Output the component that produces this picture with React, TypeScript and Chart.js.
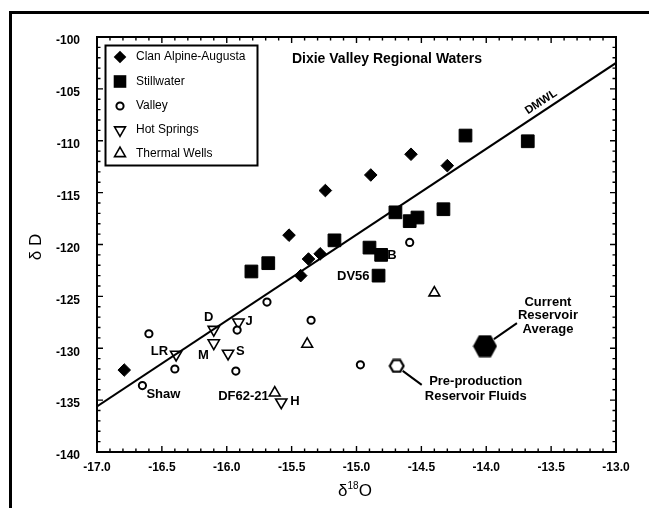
import React, { useEffect, useRef } from "react";
import { Chart, registerables } from "chart.js";

Chart.register(...registerables);

// ---------- data ----------
const X_TICKS = [-17, -16.5, -16, -15.5, -15, -14.5, -14, -13.5, -13];
const X_TICK_LABELS = ["-17.0", "-16.5", "-16.0", "-15.5", "-15.0", "-14.5", "-14.0", "-13.5", "-13.0"];
const Y_TICKS = [-140, -135, -130, -125, -120, -115, -110, -105, -100];
const Y_TICK_LABELS = ["-140", "-135", "-130", "-125", "-120", "-115", "-110", "-105", "-100"];

const CLAN_X = [-16.79, -15.52, -15.43, -15.37, -15.28, -15.24, -14.89, -14.58, -14.3];
const CLAN_Y = [-132.1, -119.1, -123.0, -121.4, -120.9, -114.8, -113.3, -111.3, -112.4];

const STILL_X = [-15.81, -15.68, -15.17, -14.9, -14.81, -14.83, -14.7, -14.59, -14.53, -14.33, -14.16, -13.68];
const STILL_Y = [-122.6, -121.8, -119.6, -120.3, -121.0, -123.0, -116.9, -117.75, -117.4, -116.6, -109.5, -110.05];
const STILL_LABELS = ["", "", "", "", "B", "DV56", "", "", "", "", "", ""];

const VALLEY_X = [-16.6, -16.65, -16.4, -15.69, -15.92, -15.93, -15.35, -14.97, -14.59];
const VALLEY_Y = [-128.6, -133.6, -132.0, -125.55, -128.25, -132.2, -127.3, -131.6, -119.8];
const VALLEY_LABELS = ["", "Shaw", "", "", "", "", "", "", ""];

const HOT_X = [-16.39, -16.1, -16.1, -15.99, -15.91, -15.58];
const HOT_Y = [-130.6, -128.2, -129.5, -130.5, -127.5, -135.2];
const HOT_LABELS = ["LR", "D", "M", "S", "J", "H"];

const THERMAL_X = [-15.38, -15.63, -14.4];
const THERMAL_Y = [-129.6, -134.3, -124.65];
const THERMAL_LABELS = ["", "DF62-21", ""];

const CURRENT_X = [-14.01];
const CURRENT_Y = [-129.8];
const CURRENT_LABEL = ["Current", "Reservoir", "Average"];

const PRE_X = [-14.69];
const PRE_Y = [-131.7];
const PRE_LABEL = ["Pre-production", "Reservoir Fluids"];

const DMWL_X = [-17, -13];
const DMWL_Y = [-135.6, -102.5];

const LEGEND_NAMES = ["Clan Alpine-Augusta", "Stillwater", "Valley", "Hot Springs", "Thermal Wells"];
const TITLE = "Dixie Valley Regional Waters";

// ---------- styles ----------
const FONT = "'Liberation Sans', Arial, sans-serif";

const LABEL_STYLE: Record<string, { dx: number; dy: number; align: CanvasTextAlign }> = {
  DV56: { dx: -9, dy: 1, align: "right" },
  B: { dx: 6, dy: 1, align: "left" },
  Shaw: { dx: 4, dy: 9, align: "left" },
  D: { dx: -5, dy: -12, align: "center" },
  J: { dx: 7, dy: -1, align: "left" },
  LR: { dx: -8, dy: -3, align: "right" },
  M: { dx: -5, dy: 12, align: "right" },
  S: { dx: 8, dy: -2, align: "left" },
  "DF62-21": { dx: -6, dy: 4, align: "right" },
  H: { dx: 9, dy: -1, align: "left" },
};

function zip(xs: number[], ys: number[]) {
  return xs.map((x, i) => ({ x, y: ys[i] }));
}

function hexCanvas(w: number, h: number, filled: boolean, lw: number) {
  const c = document.createElement("canvas");
  c.width = w;
  c.height = h;
  const ctx = c.getContext("2d")!;
  const cx = w / 2, cy = h / 2;
  const rx = w / 2 - lw / 2 - 0.5, ry = h / 2 - lw / 2 - 0.5;
  ctx.beginPath();
  ctx.moveTo(cx - rx, cy);
  ctx.lineTo(cx - rx / 2, cy - ry);
  ctx.lineTo(cx + rx / 2, cy - ry);
  ctx.lineTo(cx + rx, cy);
  ctx.lineTo(cx + rx / 2, cy + ry);
  ctx.lineTo(cx - rx / 2, cy + ry);
  ctx.closePath();
  if (filled) {
    ctx.fillStyle = "#000";
    ctx.fill();
  } else {
    ctx.fillStyle = "#fff";
    ctx.fill();
    ctx.strokeStyle = "#000";
    ctx.lineWidth = lw;
    ctx.stroke();
  }
  return c;
}

function drawMarker(ctx: CanvasRenderingContext2D, kind: number, x: number, y: number) {
  ctx.save();
  ctx.strokeStyle = "#000";
  ctx.fillStyle = "#000";
  ctx.beginPath();
  if (kind === 0) {
    const r = 6.3;
    ctx.moveTo(x, y - r);
    ctx.lineTo(x + r, y);
    ctx.lineTo(x, y + r);
    ctx.lineTo(x - r, y);
    ctx.closePath();
    ctx.fill();
  } else if (kind === 1) {
    ctx.rect(x - 6.3, y - 6.3, 12.6, 12.6);
    ctx.fill();
  } else if (kind === 2) {
    ctx.arc(x, y, 3.6, 0, Math.PI * 2);
    ctx.fillStyle = "#fff";
    ctx.fill();
    ctx.lineWidth = 2;
    ctx.stroke();
  } else {
    const r = 6.3;
    const dir = kind === 3 ? -1 : 1;
    ctx.moveTo(x, y - dir * r);
    ctx.lineTo(x + r * 0.866, y + dir * r * 0.5);
    ctx.lineTo(x - r * 0.866, y + dir * r * 0.5);
    ctx.closePath();
    ctx.fillStyle = "#fff";
    ctx.fill();
    ctx.lineWidth = 1.6;
    ctx.stroke();
  }
  ctx.restore();
}

const decorPlugin = {
  id: "decor",
  beforeDraw(chart: any) {
    const ctx: CanvasRenderingContext2D = chart.ctx;
    ctx.save();
    ctx.fillStyle = "#fff";
    ctx.fillRect(0, 0, chart.width, chart.height);
    ctx.strokeStyle = "#000";
    ctx.lineWidth = 3;
    ctx.beginPath();
    ctx.moveTo(10.5, chart.height);
    ctx.lineTo(10.5, 12.5);
    ctx.lineTo(chart.width, 12.5);
    ctx.stroke();
    ctx.restore();
  },
  afterDatasetsDraw(chart: any) {
    const ctx: CanvasRenderingContext2D = chart.ctx;
    const xs = chart.scales.x;
    const ys = chart.scales.y;
    const { left, right, top, bottom } = chart.chartArea;
    ctx.save();

    // DMWL label
    {
      const x0 = xs.getPixelForValue(DMWL_X[0]), y0 = ys.getPixelForValue(DMWL_Y[0]);
      const x1 = xs.getPixelForValue(DMWL_X[1]), y1 = ys.getPixelForValue(DMWL_Y[1]);
      const ang = Math.atan2(y1 - y0, x1 - x0);
      const t = 0.865;
      const px = x0 + (x1 - x0) * t, py = y0 + (y1 - y0) * t;
      ctx.save();
      ctx.translate(px, py);
      ctx.rotate(ang);
      ctx.font = `bold 11.5px ${FONT}`;
      ctx.fillStyle = "#000";
      ctx.textAlign = "center";
      ctx.textBaseline = "bottom";
      ctx.fillText("DMWL", 0, -3);
      ctx.restore();
    }

    // frame with inward ticks
    ctx.strokeStyle = "#000";
    ctx.lineWidth = 2;
    ctx.strokeRect(left, top, right - left, bottom - top);
    ctx.lineWidth = 1.4;
    ctx.beginPath();
    for (let i = 0; i <= 40; i++) {
      const v = -17 + i * 0.1;
      const px = xs.getPixelForValue(v);
      const len = i % 5 === 0 ? 6 : 3.5;
      ctx.moveTo(px, bottom);
      ctx.lineTo(px, bottom - len);
      ctx.moveTo(px, top);
      ctx.lineTo(px, top + len);
    }
    for (let i = 0; i <= 40; i++) {
      const v = -140 + i;
      const py = ys.getPixelForValue(v);
      const len = i % 5 === 0 ? 6 : 3.5;
      ctx.moveTo(left, py);
      ctx.lineTo(left + len, py);
      ctx.moveTo(right, py);
      ctx.lineTo(right - len, py);
    }
    ctx.stroke();

    // title
    ctx.fillStyle = "#000";
    ctx.font = `bold 14px ${FONT}`;
    ctx.textAlign = "center";
    ctx.textBaseline = "middle";
    ctx.fillText(TITLE, 387, 59);

    // legend box
    const lx = 105.5, ly = 45.5, lw = 152, lh = 120;
    ctx.fillStyle = "#fff";
    ctx.fillRect(lx, ly, lw, lh);
    ctx.lineWidth = 2;
    ctx.strokeRect(lx, ly, lw, lh);
    const rowY = [57, 81.5, 106, 130, 153.5];
    LEGEND_NAMES.forEach((name, i) => {
      drawMarker(ctx, i, 120, rowY[i]);
      ctx.fillStyle = "#000";
      ctx.font = `12px ${FONT}`;
      ctx.textAlign = "left";
      ctx.textBaseline = "middle";
      ctx.fillText(name, 136, rowY[i]);
    });

    // point labels
    ctx.font = `bold 13px ${FONT}`;
    ctx.textBaseline = "middle";
    chart.data.datasets.forEach((ds: any, di: number) => {
      if (!ds.pointLabels) return;
      const meta = chart.getDatasetMeta(di);
      ds.pointLabels.forEach((lab: string, i: number) => {
        if (!lab) return;
        const el = meta.data[i];
        const st = LABEL_STYLE[lab] || { dx: 8, dy: 0, align: "left" as CanvasTextAlign };
        ctx.textAlign = st.align;
        ctx.fillText(lab, el.x + st.dx, el.y + st.dy);
      });
    });

    // callouts
    const cur = chart.getDatasetMeta(chart.data.datasets.findIndex((d: any) => d.id === "current")).data[0];
    const pre = chart.getDatasetMeta(chart.data.datasets.findIndex((d: any) => d.id === "pre")).data[0];
    ctx.lineWidth = 2;
    ctx.beginPath();
    ctx.moveTo(cur.x + 9, cur.y - 7);
    ctx.lineTo(cur.x + 32, cur.y - 23);
    ctx.moveTo(pre.x + 6, pre.y + 5);
    ctx.lineTo(pre.x + 25, pre.y + 19);
    ctx.stroke();
    ctx.textAlign = "center";
    CURRENT_LABEL.forEach((t, i) => ctx.fillText(t, cur.x + 63, cur.y - 44 + i * 13.5));
    PRE_LABEL.forEach((t, i) => ctx.fillText(t, pre.x + 79, pre.y + 16 + i * 15));

    // axis titles
    ctx.font = `17px ${FONT}`;
    ctx.save();
    ctx.translate(36, 247);
    ctx.rotate(-Math.PI / 2);
    ctx.textAlign = "center";
    ctx.fillText("\u03B4 D", 0, 0);
    ctx.restore();

    // x title δ18O with superscript
    const cx = 355, cy = 491;
    ctx.font = `17px ${FONT}`;
    const wD = ctx.measureText("\u03B4").width;
    const wO = ctx.measureText("O").width;
    ctx.font = `10px ${FONT}`;
    const w18 = ctx.measureText("18").width;
    const total = wD + w18 + wO;
    let sx = cx - total / 2;
    ctx.textAlign = "left";
    ctx.font = `17px ${FONT}`;
    ctx.fillText("\u03B4", sx, cy);
    sx += wD;
    ctx.font = `10px ${FONT}`;
    ctx.fillText("18", sx, cy - 5);
    sx += w18;
    ctx.font = `17px ${FONT}`;
    ctx.fillText("O", sx, cy);

    ctx.restore();
  },
};

export default function App() {
  const ref = useRef<HTMLCanvasElement>(null);
  useEffect(() => {
    if (!ref.current) return;
    const bigHex = hexCanvas(25, 23, true, 0);
    const openHex = hexCanvas(17, 15, false, 2.2);
    const chart = new Chart(ref.current, {
      type: "scatter",
      data: {
        datasets: [
          {
            type: "line",
            label: "DMWL",
            data: zip(DMWL_X, DMWL_Y),
            borderColor: "#000",
            borderWidth: 2,
            pointRadius: 0,
            fill: false,
          } as any,
          {
            label: LEGEND_NAMES[0],
            data: zip(CLAN_X, CLAN_Y),
            pointStyle: "rectRot",
            pointRadius: 6.3,
            backgroundColor: "#000",
            borderColor: "#000",
            borderWidth: 1,
          },
          {
            label: LEGEND_NAMES[1],
            data: zip(STILL_X, STILL_Y),
            pointLabels: STILL_LABELS,
            pointStyle: "rect",
            pointRadius: 9,
            backgroundColor: "#000",
            borderColor: "#000",
            borderWidth: 1,
          } as any,
          {
            label: LEGEND_NAMES[2],
            data: zip(VALLEY_X, VALLEY_Y),
            pointLabels: VALLEY_LABELS,
            pointStyle: "circle",
            pointRadius: 3.6,
            backgroundColor: "#fff",
            borderColor: "#000",
            borderWidth: 2,
          } as any,
          {
            label: LEGEND_NAMES[3],
            data: zip(HOT_X, HOT_Y),
            pointLabels: HOT_LABELS,
            pointStyle: "triangle",
            rotation: 180,
            pointRadius: 6.5,
            backgroundColor: "#fff",
            borderColor: "#000",
            borderWidth: 1.6,
          } as any,
          {
            label: LEGEND_NAMES[4],
            data: zip(THERMAL_X, THERMAL_Y),
            pointLabels: THERMAL_LABELS,
            pointStyle: "triangle",
            pointRadius: 6.2,
            backgroundColor: "#fff",
            borderColor: "#000",
            borderWidth: 1.6,
          } as any,
          {
            id: "current",
            label: "Current Reservoir Average",
            data: zip(CURRENT_X, CURRENT_Y),
            pointStyle: bigHex,
            pointRadius: 12,
          } as any,
          {
            id: "pre",
            label: "Pre-production Reservoir Fluids",
            data: zip(PRE_X, PRE_Y),
            pointStyle: openHex,
            pointRadius: 8,
          } as any,
        ],
      },
      options: {
        animation: false,
        responsive: true,
        maintainAspectRatio: false,
        events: [],
        layout: { padding: { left: 0, right: 33, top: 37, bottom: 0 } },
        plugins: { legend: { display: false }, tooltip: { enabled: false }, title: { display: false } },
        scales: {
          x: {
            type: "linear",
            min: -17,
            max: -13,
            grid: { display: false, drawTicks: false },
            border: { display: false },
            afterBuildTicks: (s: any) => {
              s.ticks = X_TICKS.map((v) => ({ value: v }));
            },
            afterFit: (s: any) => {
              s.height = 56;
            },
            ticks: {
              autoSkip: false,
              maxRotation: 0,
              padding: 8,
              color: "#000",
              font: { family: FONT, size: 12, weight: "bold" },
              callback: (v: any) => X_TICK_LABELS[X_TICKS.indexOf(Number(v))] ?? "",
            },
          },
          y: {
            type: "linear",
            min: -140,
            max: -100,
            grid: { display: false, drawTicks: false },
            border: { display: false },
            afterBuildTicks: (s: any) => {
              s.ticks = Y_TICKS.map((v) => ({ value: v }));
            },
            afterFit: (s: any) => {
              s.width = 97;
            },
            ticks: {
              autoSkip: false,
              padding: 17,
              labelOffset: 4,
              color: "#000",
              font: { family: FONT, size: 12, weight: "bold" },
              callback: (v: any) => Y_TICK_LABELS[Y_TICKS.indexOf(Number(v))] ?? "",
            },
          },
        },
      },
      plugins: [decorPlugin],
    } as any);
    return () => chart.destroy();
  }, []);

  return (
    <div style={{ position: "fixed", left: 0, top: 0, width: 649, height: 508, background: "#fff" }}>
      <canvas ref={ref} />
    </div>
  );
}
